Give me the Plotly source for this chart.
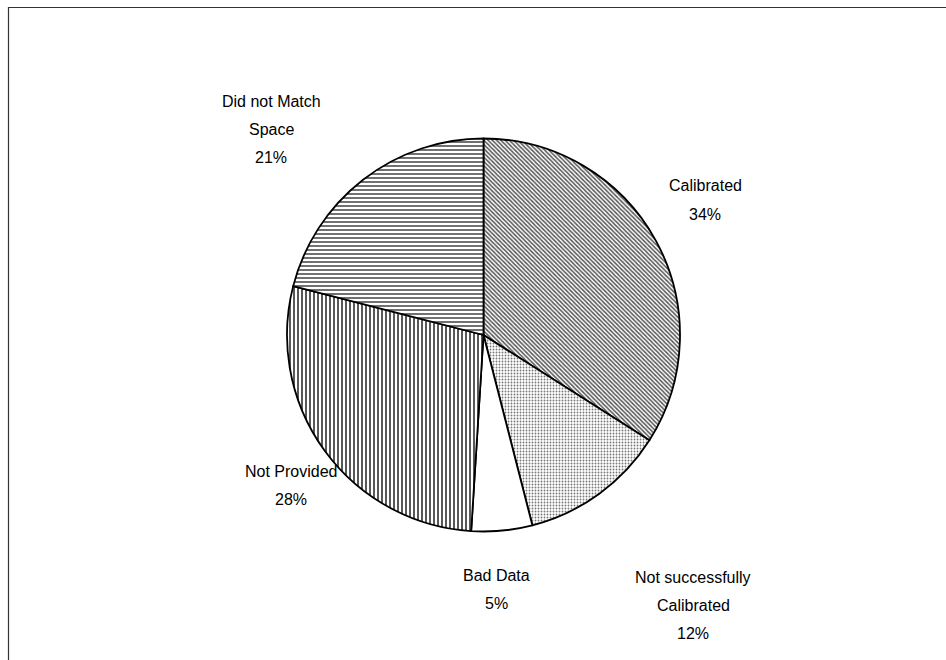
import plotly.graph_objects as go

# ---- data ----
categories = ["Calibrated", "Not successfully Calibrated", "Bad Data", "Not Provided", "Did not Match Space"]
values = [34, 12, 5, 28, 21]
label_lines = [
    ["Calibrated", "34%"],
    ["Not successfully", "Calibrated", "12%"],
    ["Bad Data", "5%"],
    ["Not Provided", "28%"],
    ["Did not Match", "Space", "21%"],
]

# ---- styling / layout ----
W, H = 946, 660
patterns = [
    dict(shape="\\", size=3, solidity=0.5, fgcolor="#555555", bgcolor="white"),
    dict(shape=".", size=3, solidity=0.3, fgcolor="#777777", bgcolor="white"),
    dict(shape="", fgcolor="white", bgcolor="white"),
    dict(shape="|", size=4, solidity=0.35, fgcolor="#111111", bgcolor="white"),
    dict(shape="-", size=4, solidity=0.3, fgcolor="#111111", bgcolor="white"),
]
# label anchor (pixel centre of first line), line spacing
label_pos = [(705, 186), (693, 577), (497, 575), (291, 471), (271, 101)]
line_gap = 28

cx, cy, r = 483.5, 335, 196.5

fig = go.Figure(go.Pie(
    labels=categories,
    values=values,
    sort=False,
    direction="clockwise",
    rotation=0,
    textinfo="none",
    hoverinfo="label+percent",
    marker=dict(
        colors=["white"] * len(values),
        line=dict(color="black", width=1.8),
        pattern=dict(
            shape=[p["shape"] for p in patterns],
            size=[p.get("size", 4) for p in patterns],
            solidity=[p.get("solidity", 0.3) for p in patterns],
            fgcolor=[p["fgcolor"] for p in patterns],
            bgcolor=[p["bgcolor"] for p in patterns],
            fillmode="replace",
        ),
    ),
    domain=dict(x=[(cx - r) / W, (cx + r) / W], y=[1 - (cy + r) / H, 1 - (cy - r) / H]),
    showlegend=False,
))

annotations = []
for lines, (px, py) in zip(label_lines, label_pos):
    for i, t in enumerate(lines):
        annotations.append(dict(
            x=px / W, y=1 - (py + i * line_gap) / H, xref="paper", yref="paper",
            text=t, showarrow=False, xanchor="center", yanchor="middle",
            font=dict(family="Liberation Sans, Arial", size=16, color="black"),
        ))

fig.update_layout(
    width=W, height=H,
    margin=dict(l=0, r=0, t=0, b=0),
    paper_bgcolor="white",
    plot_bgcolor="white",
    annotations=annotations,
    shapes=[dict(type="rect", xref="paper", yref="paper",
                 x0=8.5 / W, x1=1.05, y0=-0.05, y1=1 - 7.5 / H,
                 line=dict(color="#333333", width=1.2))],
)

fig.write_html("out.html")
